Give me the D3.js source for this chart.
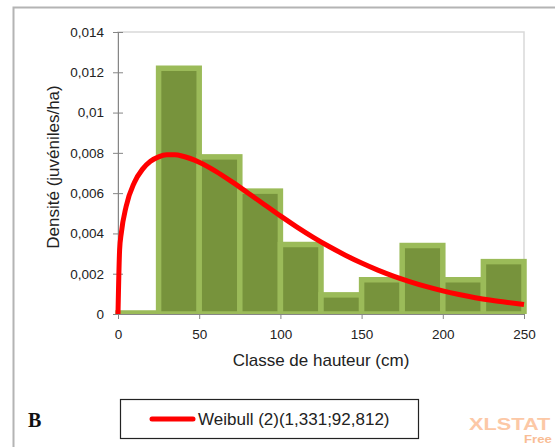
<!DOCTYPE html>
<html lang="fr">
<head>
<meta charset="utf-8">
<title>Weibull</title>
<script src="https://d3js.org/d3.v7.min.js"></script>
<style>
body { margin: 0; background: #fff; }
svg { display: block; font-family: "Liberation Sans", Arial, sans-serif; }
.axis path, .axis line { stroke: #868686; }
.axis text { font-size: 13.5px; fill: #222; font-family: "Liberation Sans", Arial, sans-serif; }
</style>
</head>
<body>
<script>

// histogram classes (cm) and densities
var binStart = [0, 25, 50, 75, 100, 125, 150, 175, 200, 225];
var binWidth = 25;
var density = [0.00005, 0.0122, 0.0078, 0.0061, 0.00345, 0.00095, 0.0017, 0.0034, 0.0017, 0.0026];

// fitted Weibull curve
var curveX = [0, 1, 2, 5, 10, 15, 20, 25, 30, 35, 40, 50, 60, 70, 80, 90, 100, 110, 120, 130,
              140, 150, 160, 170, 180, 190, 200, 210, 220, 230, 240, 250];
var curveY = [0, 0.0032, 0.0040, 0.00534, 0.00652, 0.00718, 0.00758, 0.0078, 0.0079, 0.0079, 0.00783,
              0.00753, 0.00709, 0.00657, 0.00601, 0.00544, 0.00487, 0.00433, 0.00382, 0.00335,
              0.00292, 0.00253, 0.00218, 0.00187, 0.0016, 0.00136, 0.00115, 0.00097, 0.00081,
              0.00068, 0.00057, 0.00047];

var xTicks = [0, 50, 100, 150, 200, 250];
var yTicks = [0, 0.002, 0.004, 0.006, 0.008, 0.01, 0.012, 0.014];
var legendLabel = "Weibull (2)(1,331;92,812)";

var W = 555, H = 447;
var plot = {left: 118, right: 524, top: 32, bottom: 314};

var svg = d3.select("body").append("svg")
    .attr("width", W)
    .attr("height", H);

// outer chart frame (partially visible)
svg.append("path")
    .attr("d", "M13.5," + H + "V7.5H" + W)
    .attr("fill", "none")
    .attr("stroke", "#b4b4b4")
    .attr("stroke-width", 2);

var x = d3.scaleLinear().domain([0, 250]).range([plot.left, plot.right]);
var y = d3.scaleLinear().domain([0, 0.014]).range([plot.bottom, plot.top]);

// keep bar borders from spilling under the x axis
svg.append("clipPath").attr("id", "plotclip")
  .append("rect")
    .attr("x", 0).attr("y", 0)
    .attr("width", W).attr("height", plot.bottom);

// plot area border
svg.append("rect")
    .attr("x", plot.left)
    .attr("y", plot.top)
    .attr("width", plot.right - plot.left)
    .attr("height", plot.bottom - plot.top)
    .attr("fill", "none")
    .attr("stroke", "#d9d9d9")
    .attr("stroke-width", 1.5);

var fr = d3.format(".3~f");
function frLabel(d) { return d === 0 ? "0" : fr(d).replace(".", ","); }

// bars
svg.append("g")
    .attr("clip-path", "url(#plotclip)")
  .selectAll(".bar")
    .data(binStart)
  .enter().append("rect")
    .attr("class", "bar")
    .attr("x", function(d) { return x(d); })
    .attr("y", function(d, i) { return y(density[i]); })
    .attr("width", function(d) { return x(d + binWidth) - x(d); })
    .attr("height", function(d, i) { return y(0) - y(density[i]); })
    .attr("fill", "#77933c")
    .attr("stroke", "#9bbb59")
    .attr("stroke-width", 5.5);

// axes
var yAxis = d3.axisLeft(y).tickValues(yTicks).tickFormat(frLabel).tickSizeInner(5).tickSizeOuter(0).tickPadding(9);
var yg = svg.append("g")
    .attr("class", "axis")
    .attr("transform", "translate(" + plot.left + ",0)")
    .call(yAxis);
yg.selectAll(".tick line").attr("x1", 5).attr("x2", -5);

var xAxis = d3.axisBottom(x).tickValues(xTicks).tickFormat(d3.format("d")).tickSizeInner(5).tickSizeOuter(0).tickPadding(10);
svg.append("g")
    .attr("class", "axis")
    .attr("transform", "translate(0," + plot.bottom + ")")
    .call(xAxis);

// Weibull curve
var line = d3.line()
    .x(function(d, i) { return x(curveX[i]); })
    .y(function(d) { return y(d); })
    .curve(d3.curveMonotoneX);

svg.append("path")
    .datum(curveY)
    .attr("d", line)
    .attr("fill", "none")
    .attr("stroke", "#ff0000")
    .attr("stroke-width", 5)
    .attr("stroke-linejoin", "round");

// axis titles
svg.append("text")
    .attr("x", (plot.left + plot.right) / 2)
    .attr("y", 366)
    .attr("text-anchor", "middle")
    .style("font-size", "17px")
    .style("fill", "#222")
    .text("Classe de hauteur (cm)");

svg.append("text")
    .attr("transform", "translate(59,167) rotate(-90)")
    .attr("text-anchor", "middle")
    .style("font-size", "17px")
    .style("fill", "#222")
    .text("Densité (juvéniles/ha)");

// legend
svg.append("rect")
    .attr("x", 120.5).attr("y", 399.5)
    .attr("width", 298).attr("height", 39)
    .attr("fill", "#fff")
    .attr("stroke", "#222")
    .attr("stroke-width", 1.2);

svg.append("line")
    .attr("x1", 152).attr("x2", 193)
    .attr("y1", 419).attr("y2", 419)
    .attr("stroke", "#ff0000")
    .attr("stroke-width", 5)
    .attr("stroke-linecap", "round");

svg.append("text")
    .attr("x", 198).attr("y", 425)
    .style("font-size", "17px")
    .style("fill", "#222")
    .text(legendLabel);

// panel letter
svg.append("text")
    .attr("x", 28).attr("y", 427)
    .style("font-family", "'Liberation Serif', 'Times New Roman', serif")
    .style("font-weight", "bold")
    .style("font-size", "20px")
    .style("fill", "#111")
    .text("B");

// watermark
svg.append("text")
    .attr("transform", "translate(469,430) scale(1.36,1)")
    .style("font-weight", "bold")
    .style("font-size", "16px")
    .style("fill", "#fcc8a6")
    .text("XLSTAT");

svg.append("text")
    .attr("transform", "translate(524,443) scale(1.2,1)")
    .style("font-weight", "bold")
    .style("font-size", "11px")
    .style("fill", "#f9bd95")
    .text("Free");

</script>
</body>
</html>
